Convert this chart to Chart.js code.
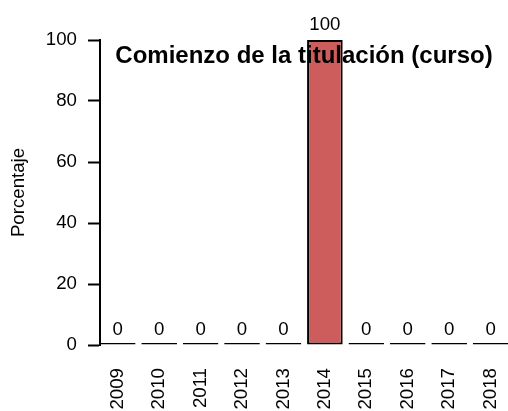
<!DOCTYPE html>
<html>
<head>
<meta charset="utf-8">
<script src="https://cdn.jsdelivr.net/npm/chart.js@4"></script>
<style>
  body { margin: 0; background: #fff; }
  #wrap { width: 508px; height: 411px; }
</style>
</head>
<body>
<div id="wrap"><canvas id="myChart"></canvas></div>
<script>
// datos
const anios = [2009, 2010, 2011, 2012, 2013, 2014, 2015, 2016, 2017, 2018];
const porcentajes = [0, 0, 0, 0, 0, 100, 0, 0, 0, 0];
const marcasY = [0, 20, 40, 60, 80, 100];
const titulo = "Comienzo de la titulación (curso)";

const fuente = "'Liberation Sans', Arial, sans-serif";
const tam = 18.67;

// etiquetas encima de cada barra y el titulo encima de todo
const etiquetas = {
  id: "etiquetas",
  afterDatasetsDraw(chart) {
    const ctx = chart.ctx;
    const meta = chart.getDatasetMeta(0);
    ctx.save();
    ctx.fillStyle = "#000";
    ctx.font = tam + "px " + fuente;
    ctx.textAlign = "center";
    ctx.textBaseline = "alphabetic";
    meta.data.forEach((bar, i) => {
      const yBase = chart.scales.y.getPixelForValue(porcentajes[i]);
      ctx.fillText(String(porcentajes[i]), bar.x, yBase - 10.5);
    });
    ctx.restore();
  },
  afterDraw(chart) {
    const ctx = chart.ctx;
    const area = chart.chartArea;
    ctx.save();
    ctx.fillStyle = "#000";
    ctx.font = "bold 24px " + fuente;
    ctx.textAlign = "center";
    ctx.textBaseline = "alphabetic";
    ctx.fillText(titulo, (area.left + area.right) / 2, area.top + 23);
    ctx.restore();
  }
};

new Chart(document.getElementById("myChart"), {
  type: "bar",
  data: {
    datasets: [{
      data: anios.map((a, i) => ({ x: a, y: porcentajes[i] })),
      backgroundColor: "#CD5C5C",
      borderColor: "#000",
      borderWidth: 2,
      borderSkipped: false,
      minBarLength: 2,
      categoryPercentage: 1,
      barPercentage: 0.86,
      clip: false
    }]
  },
  options: {
    responsive: true,
    maintainAspectRatio: false,
    animation: false,
    layout: { padding: { top: 40, left: 0, right: 0, bottom: 0 } },
    plugins: {
      legend: { display: false },
      tooltip: { enabled: false },
      title: { display: false }
    },
    scales: {
      x: {
        type: "linear",
        offset: false,
        min: 2008.572,
        max: 2018.42,
        grid: { display: false, drawTicks: false },
        border: { display: false },
        afterBuildTicks: (axis) => { axis.ticks = anios.map(v => ({ value: v })); },
        afterFit: (axis) => {
          axis.height = 66;
          axis.paddingLeft = 0;
          axis.paddingRight = 0;
        },
        ticks: {
          autoSkip: false,
          minRotation: 90,
          maxRotation: 90,
          padding: 23,
          color: "#000",
          font: { size: tam, family: fuente },
          callback: (v) => String(v)
        }
      },
      y: {
        min: 0,
        max: 100,
        afterBuildTicks: (axis) => { axis.ticks = marcasY.map(v => ({ value: v })); },
        afterFit: (axis) => { axis.width = 100; },
        grid: {
          drawOnChartArea: false,
          drawTicks: true,
          tickLength: 12,
          tickWidth: 2,
          tickColor: "#000"
        },
        border: { display: true, color: "#000", width: 2 },
        ticks: {
          padding: 11,
          color: "#000",
          font: { size: tam, family: fuente }
        },
        title: {
          display: true,
          text: "Porcentaje",
          color: "#000",
          font: { size: tam, family: fuente },
          padding: { top: 8, bottom: 0 }
        }
      }
    }
  },
  plugins: [etiquetas]
});
</script>
</body>
</html>
